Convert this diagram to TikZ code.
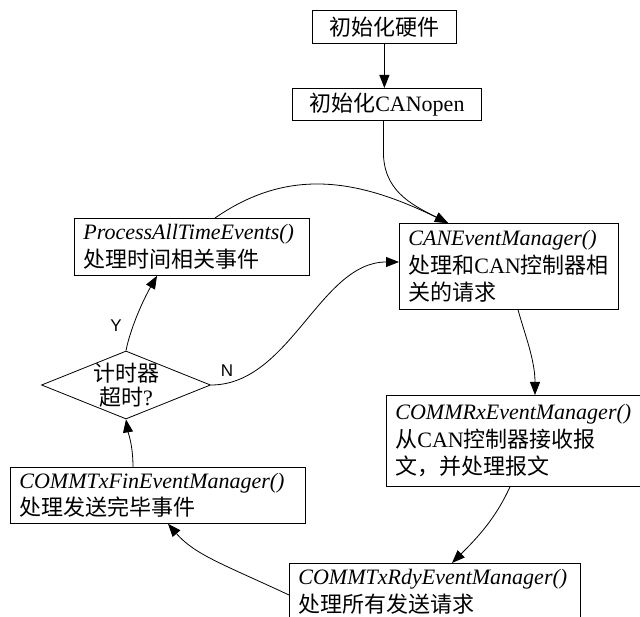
\documentclass[tikz,border=0pt]{standalone}
\usepackage{fontspec}
\setmainfont{Liberation Serif}
\setsansfont{Liberation Sans}
\newfontfamily\cjk{Noto Sans CJK SC}
\usetikzlibrary{arrows.meta,shapes.geometric}
\newcommand\zh[1]{{\cjk #1}}
\begin{document}
\begin{tikzpicture}[x=1pt,y=-1pt,
  box/.style={draw, line width=0.8pt, anchor=north west, inner xsep=9pt, inner ysep=0pt, align=left, font=\fontsize{22}{27.5}\selectfont},
  cbox/.style={draw, line width=0.8pt, anchor=north west, inner sep=0pt, font=\fontsize{22}{26}\selectfont},
  conn/.style={line width=0.8pt, -{Triangle[length=13pt,width=10pt]}},
  lbl/.style={font=\sffamily\fontsize{17}{17}\selectfont, inner sep=0pt}]
\clip (0,0) rectangle (640,617);
\fill[white] (0,0) rectangle (640,617);
% boxes
\node[cbox, minimum width=144pt, minimum height=33pt] (b1) at (312,10) {\zh{初始化硬件}};
\node[cbox, minimum width=189pt, minimum height=32pt] (b2) at (292,88) {\zh{初始化}CANopen};
\node[box, minimum width=235pt, text width=217pt, minimum height=57pt] (pa) at (74,218)
  {\textit{ProcessAllTimeEvents()}\\\zh{处理时间相关事件}};
\node[box, minimum width=219pt, text width=201pt, minimum height=86pt] (ce) at (399,223)
  {\textit{CANEventManager()}\\\zh{处理和}CAN\zh{控制器相}\\\zh{关的请求}};
\node[box, minimum width=280pt, text width=262pt, minimum height=91pt] (rx) at (386,395)
  {\textit{COMMRxEventManager()}\\\zh{从}CAN\zh{控制器接收报}\\\zh{文，并处理报文}};
\node[box, minimum width=295pt, text width=277pt, minimum height=56pt] (tf) at (10,467)
  {\textit{COMMTxFinEventManager()}\\\zh{处理发送完毕事件}};
\node[box, minimum width=291pt, text width=273pt, minimum height=57pt] (tr) at (289,563)
  {\textit{COMMTxRdyEventManager()}\\\zh{处理所有发送请求}};
% decision
\node[diamond, draw, line width=0.8pt, minimum width=169pt, minimum height=68pt, inner sep=0pt] (dia) at (126,385) {};
\node[align=center, inner sep=0pt, font=\fontsize{22}{24}\selectfont] (dt) at (126,385) {\zh{计时器}\\\zh{超时}?};
% labels
\node[lbl] (ly) at (116,326) {Y};
\node[lbl] (ln) at (227,371) {N};
% connectors
\draw[conn] (b1.south) -- (b1.south |- b2.north);
\draw[conn] ([xshift=-3.5pt]b2.south) -- ++(0,30) .. controls (383,190) and (410,204) .. ([xshift=49pt]ce.north west);
\draw[conn] ([xshift=141pt]pa.north west) .. controls (290,166) and (360,180) .. ([xshift=49pt]ce.north west);
\draw[conn] (dia.north) .. controls (130,330) and (142,302) .. ([xshift=83pt]pa.south west);
\draw[conn] (dia.east) .. controls (290,385) and (320,262) .. ([yshift=-39pt]ce.north west);
\draw[conn] ([xshift=119pt]ce.south west) .. controls (525,335) and (535,360) .. ([xshift=149pt]rx.north west);
\draw[conn] ([xshift=124pt]rx.south west) .. controls (495,520) and (475,540) .. ([xshift=163pt]tr.north west);
\draw[conn] ([yshift=-32pt]tr.north west) .. controls (225,565) and (195,555) .. ([xshift=158pt]tf.south west);
\draw[conn] ([xshift=123pt]tf.north west) .. controls (133,445) and (128,432) .. (dia.south);
\end{tikzpicture}
\end{document}
